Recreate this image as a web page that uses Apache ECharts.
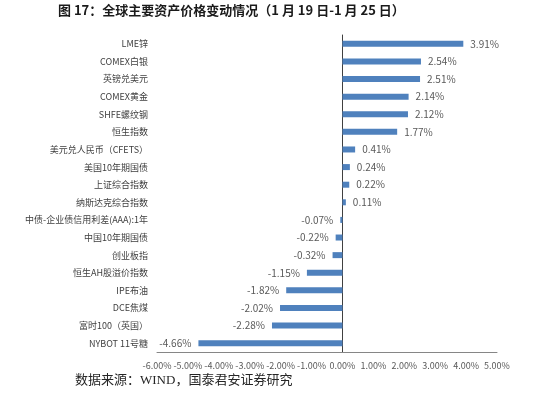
<!DOCTYPE html>
<html>
<head>
<meta charset="utf-8">
<script src="https://cdn.jsdelivr.net/npm/echarts@6/dist/echarts.min.js"></script>
<style>
    html, body { margin: 0; padding: 0; background: #fff; }
    #chart { width: 550px; height: 398px; }
</style>
</head>
<body>
<div id="chart"></div>
<script>
// Data (top to bottom)
const categories = [
    'LME锌', 'COMEX白银', '英镑兑美元', 'COMEX黄金', 'SHFE螺纹钢', '恒生指数',
    '美元兑人民币（CFETS）', '美国10年期国债', '上证综合指数', '纳斯达克综合指数',
    '中债-企业债信用利差(AAA):1年', '中国10年期国债', '创业板指', '恒生AH股溢价指数',
    'IPE布油', 'DCE焦煤', '富时100（英国）', 'NYBOT 11号糖'
];
const changes = [
    3.91, 2.54, 2.51, 2.14, 2.12, 1.77,
    0.41, 0.24, 0.22, 0.11,
    -0.07, -0.22, -0.32, -1.15,
    -1.82, -2.02, -2.28, -4.66
];
const xTicks = [-6, 5, 1]; // min, max, interval

const titleText = '图 17：全球主要资产价格变动情况（1 月 19 日-1 月 25 日）';
const sourceText = '数据来源：WIND，国泰君安证券研究';

const pct = v => v.toFixed(2) + '%';

const chart = echarts.init(document.getElementById('chart'));

// Label sits on the outer end of each bar
const barData = changes.map(v => ({
    value: v,
    label: { position: v >= 0 ? 'right' : 'left' }
}));

chart.setOption({
    animation: false,
    textStyle: { fontFamily: '"Noto Sans CJK SC", "Noto Sans", sans-serif' },
    graphic: [
        {
            type: 'text',
            left: 58,
            top: 4,
            style: {
                text: titleText,
                fill: '#1a1a1a',
                font: 'bold 13px "Noto Sans CJK SC", sans-serif'
            }
        },
        {
            type: 'text',
            left: 75,
            top: 374,
            style: {
                text: sourceText,
                fill: '#262626',
                font: '13px "Liberation Serif", "Noto Sans CJK SC", serif'
            }
        }
    ],
    grid: {
        left: 157,
        right: 53,
        top: 35,
        bottom: 46,
        containLabel: false,
        outerBoundsMode: 'none'
    },
    xAxis: {
        type: 'value',
        min: xTicks[0],
        max: xTicks[1],
        interval: xTicks[2],
        axisLine: { show: true, onZero: false, lineStyle: { color: '#868686', width: 1 } },
        axisTick: { show: false },
        splitLine: { show: false },
        axisLabel: {
            formatter: v => pct(v),
            color: '#595959',
            fontSize: 9,
            margin: 9
        }
    },
    yAxis: {
        type: 'category',
        inverse: true,
        data: categories,
        axisLine: { show: true, onZero: true, lineStyle: { color: '#404040', width: 1 } },
        axisTick: { show: false },
        axisLabel: {
            color: '#404040',
            fontSize: 9,
            margin: 9
        }
    },
    series: [
        {
            type: 'bar',
            data: barData,
            barWidth: 6,
            itemStyle: { color: '#4F81BD' },
            label: {
                show: true,
                formatter: p => pct(p.value),
                color: '#595959',
                fontSize: 10,
                distance: 7
            }
        }
    ]
});
</script>
</body>
</html>
